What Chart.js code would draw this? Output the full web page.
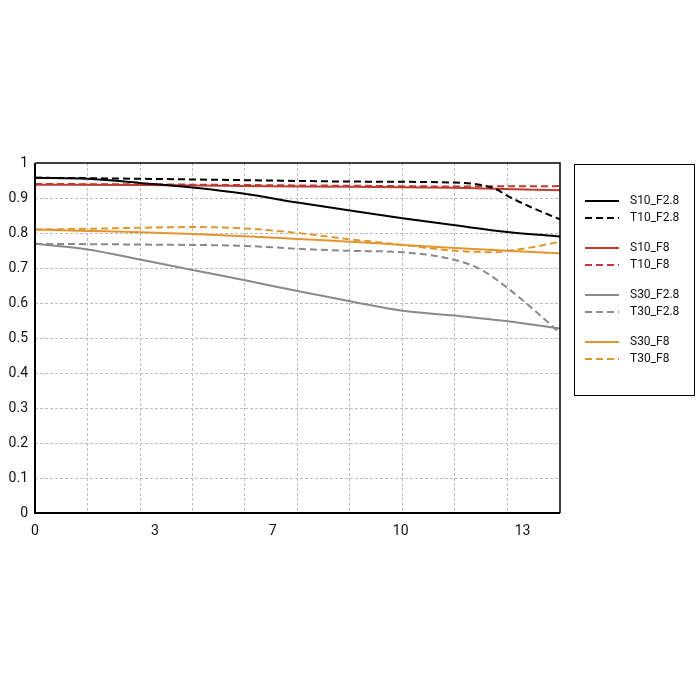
<!DOCTYPE html>
<html>
<head>
<meta charset="utf-8">
<script src="https://cdn.jsdelivr.net/npm/chart.js@4"></script>
<style>
  html, body { margin: 0; padding: 0; background: #fff; }
  #wrap { width: 700px; height: 700px; }
</style>
</head>
<body>
<div id="wrap"><canvas id="mtf"></canvas></div>
<script>
// x tick labels and where they sit on the axis (the labels are not evenly spaced)
const xTickLabels = ['0', '3', '7', '10', '13'];
const xTickAt = [0, 3.2, 6.34, 9.75, 13.0];

const seriesNames = ['S10_F2.8', 'T10_F2.8', 'S10_F8', 'T10_F8', 'S30_F2.8', 'T30_F2.8', 'S30_F8', 'T30_F8'];

const s10f28X = [0, 1.4, 2.8, 4.2, 5.6, 7.0, 8.4, 9.8, 11.2, 12.6, 14];
const s10f28Y = [0.958, 0.955, 0.943, 0.93, 0.912, 0.887, 0.864, 0.842, 0.822, 0.803, 0.79];

const t10f28X = [0, 2.8, 5.6, 8.4, 11.2, 11.9, 12.3, 12.6, 13.2, 14];
const t10f28Y = [0.958, 0.955, 0.951, 0.947, 0.944, 0.937, 0.925, 0.906, 0.875, 0.839];

const s10f8X = [0, 2.8, 5.6, 8.4, 11.2, 14];
const s10f8Y = [0.938, 0.937, 0.934, 0.932, 0.929, 0.922];

const t10f8X = [0, 2.8, 5.6, 8.4, 11.2, 14];
const t10f8Y = [0.94, 0.939, 0.937, 0.935, 0.933, 0.934];

const s30f28X = [0, 1.4, 2.8, 4.2, 5.6, 7.0, 8.4, 9.8, 11.2, 12.6, 14];
const s30f28Y = [0.769, 0.753, 0.724, 0.694, 0.665, 0.634, 0.605, 0.578, 0.564, 0.548, 0.527];

const t30f28X = [0, 2.8, 5.6, 7.0, 8.4, 9.8, 11.2, 11.9, 12.6, 13.2, 14];
const t30f28Y = [0.769, 0.767, 0.763, 0.755, 0.749, 0.745, 0.723, 0.695, 0.643, 0.59, 0.514];

const s30f8X = [0, 1.4, 2.8, 4.2, 5.6, 7.0, 8.4, 9.8, 11.2, 12.6, 14];
const s30f8Y = [0.81, 0.806, 0.802, 0.797, 0.791, 0.783, 0.775, 0.766, 0.757, 0.749, 0.742];

const t30f8X = [0, 1.4, 2.8, 4.2, 5.6, 7.0, 8.4, 9.8, 11.2, 12.3, 12.6, 13.3, 14];
const t30f8Y = [0.81, 0.812, 0.815, 0.817, 0.813, 0.80, 0.782, 0.766, 0.749, 0.745, 0.749, 0.76, 0.775];

const BLACK = '#000000';
const RED = '#bf3a30';
const GRAY = '#8a8a8a';
const ORANGE = '#e2962f';
const DASH = [7, 4];
const GRID = '#bdbdbd';

function pts(xs, ys) {
  return xs.map((x, i) => ({ x: x, y: ys[i] }));
}

function line(name, xs, ys, color, dashed) {
  return {
    label: name,
    data: pts(xs, ys),
    borderColor: color,
    backgroundColor: color,
    borderWidth: 2,
    borderDash: dashed ? DASH : [],
    pointRadius: 0,
    fill: false,
    cubicInterpolationMode: 'monotone'
  };
}

const datasets = [
  line(seriesNames[0], s10f28X, s10f28Y, BLACK, false),
  line(seriesNames[1], t10f28X, t10f28Y, BLACK, true),
  line(seriesNames[2], s10f8X, s10f8Y, RED, false),
  line(seriesNames[3], t10f8X, t10f8Y, RED, true),
  line(seriesNames[4], s30f28X, s30f28Y, GRAY, false),
  line(seriesNames[5], t30f28X, t30f28Y, GRAY, true),
  line(seriesNames[6], s30f8X, s30f8Y, ORANGE, false),
  line(seriesNames[7], t30f8X, t30f8Y, ORANGE, true)
];

const FONT = 'Roboto, "Noto Sans", sans-serif';

// plot frame (all four edges) and the boxed legend on the right
const framePlugin = {
  id: 'frameAndLegend',
  afterDraw(chart) {
    const { ctx, chartArea: a } = chart;
    ctx.save();
    ctx.setLineDash([]);
    ctx.strokeStyle = '#000';
    ctx.lineWidth = 1.5;
    ctx.beginPath();
    ctx.moveTo(a.left, a.top);
    ctx.lineTo(a.right, a.top);
    ctx.lineTo(a.right, a.bottom);
    ctx.stroke();
    ctx.lineWidth = 2;
    ctx.beginPath();
    ctx.moveTo(a.left, a.top);
    ctx.lineTo(a.left, a.bottom);
    ctx.lineTo(a.right, a.bottom);
    ctx.stroke();

    // legend box
    ctx.lineWidth = 1;
    ctx.strokeRect(574.5, 164.5, 120, 231);
    ctx.font = '12px ' + FONT;
    ctx.textBaseline = 'middle';
    ctx.textAlign = 'left';
    chart.data.datasets.forEach((ds, i) => {
      const y = 201 + Math.floor(i / 2) * 47 + (i % 2) * 17;
      ctx.strokeStyle = ds.borderColor;
      ctx.lineWidth = 2;
      ctx.setLineDash(ds.borderDash);
      ctx.beginPath();
      ctx.moveTo(585, y);
      ctx.lineTo(619, y);
      ctx.stroke();
      ctx.setLineDash([]);
      ctx.fillStyle = '#111';
      ctx.fillText(ds.label, 630, y);
    });
    ctx.restore();
  }
};

new Chart(document.getElementById('mtf'), {
  type: 'line',
  data: { datasets },
  plugins: [framePlugin],
  options: {
    responsive: true,
    maintainAspectRatio: false,
    animation: false,
    layout: { padding: { left: 0, right: 140, top: 163, bottom: 0 } },
    plugins: { legend: { display: false }, tooltip: { enabled: false } },
    scales: {
      x: {
        type: 'linear',
        min: 0,
        max: 14,
        afterBuildTicks(scale) {
          const ticks = [];
          for (let i = 1; i < 10; i++) ticks.push({ value: i * 1.4 });
          xTickAt.forEach(v => ticks.push({ value: v }));
          scale.ticks = ticks;
        },
        afterFit(scale) { scale.height = 187; },
        ticks: {
          autoSkip: false,
          maxRotation: 0,
          padding: 10,
          color: '#111',
          font: { family: FONT, size: 14 },
          callback(v) {
            const k = xTickAt.indexOf(v);
            return k >= 0 ? xTickLabels[k] : '';
          }
        },
        grid: {
          drawTicks: false,
          color: c => (c.tick && xTickAt.indexOf(c.tick.value) < 0) ? GRID : 'rgba(0,0,0,0)',
          lineWidth: 1
        },
        border: { display: false, dash: [3, 2] }
      },
      y: {
        min: 0,
        max: 1,
        afterFit(scale) { scale.width = 35; },
        ticks: {
          stepSize: 0.1,
          padding: 7,
          color: '#111',
          font: { family: FONT, size: 14 },
          callback: v => String(+v.toFixed(1))
        },
        grid: {
          drawTicks: false,
          color: c => (c.tick && c.tick.value > 0.001 && c.tick.value < 0.999) ? GRID : 'rgba(0,0,0,0)',
          lineWidth: 1
        },
        border: { display: false, dash: [3, 2] }
      }
    }
  }
});
</script>
</body>
</html>
